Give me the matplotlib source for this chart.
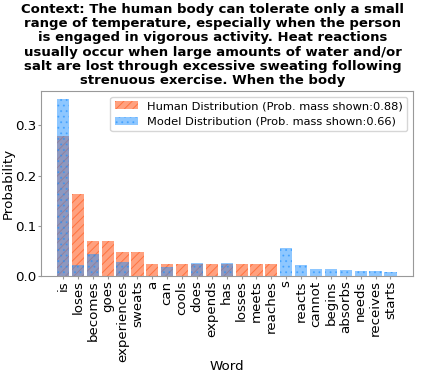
import matplotlib
matplotlib.use("Agg")
import matplotlib.pyplot as plt
import numpy as np

words = ["is", "loses", "becomes", "goes", "experiences", "sweats", "a", "can", "cools",
         "does", "expends", "has", "losses", "meets", "reaches", "s", "reacts", "cannot",
         "begins", "absorbs", "needs", "receives", "starts"]
human = [0.28, 0.164, 0.070, 0.070, 0.047, 0.047, 0.023, 0.023, 0.023,
         0.023, 0.023, 0.023, 0.023, 0.023, 0.023, 0, 0, 0,
         0, 0, 0, 0, 0]
model = [0.3525, 0.021, 0.044, 0, 0.028, 0, 0, 0.017, 0,
         0.0265, 0, 0.026, 0, 0, 0, 0.056, 0.022, 0.014,
         0.014, 0.0125, 0.0105, 0.0105, 0.0085]
title = ("Context: The human body can tolerate only a small\n"
         "range of temperature, especially when the person\n"
         "is engaged in vigorous activity. Heat reactions\n"
         "usually occur when large amounts of water and/or\n"
         "salt are lost through excessive sweating following\n"
         "strenuous exercise. When the body")

plt.rcParams['hatch.linewidth'] = 0.7
fig = plt.figure(figsize=(4.25, 3.77), dpi=100)
ax = fig.add_axes([0.0965, 0.268, 0.875, 0.491])
x = np.arange(len(words))
ax.bar(x, human, width=0.82, color="orangered", alpha=0.5, hatch="////", edgecolor="orangered",
       linewidth=0, label="Human Distribution (Prob. mass shown:0.88)")
ax.bar(x, model, width=0.82, color="dodgerblue", alpha=0.5, hatch="...", edgecolor="dodgerblue",
       linewidth=0, label="Model Distribution (Prob. mass shown:0.66)")
ax.set_xticks(x)
ax.set_xticklabels(words, rotation=90, fontsize=9.6)
ax.tick_params(axis='y', labelsize=9.6)
ax.tick_params(axis='both', length=2, pad=1.2, color="#999999")
ax.set_xlim(-1.48, 23.51)
ax.set_ylim(0, 0.369)
ax.set_yticks([0.0, 0.1, 0.2, 0.3])
ax.set_xlabel("Word", fontsize=9.6)
ax.set_ylabel("Probability", fontsize=9.6)
ax.yaxis.set_label_coords(-0.07, 0.5)
ax.xaxis.set_label_coords(0.5, -0.452)
for s in ax.spines.values():
    s.set_color("#999999")
ax.legend(loc="upper right", fontsize=8.2)
fig.suptitle(title, fontsize=9.5, fontweight="bold", y=0.993, linespacing=1.13)
fig.savefig("out.png", dpi=100)
